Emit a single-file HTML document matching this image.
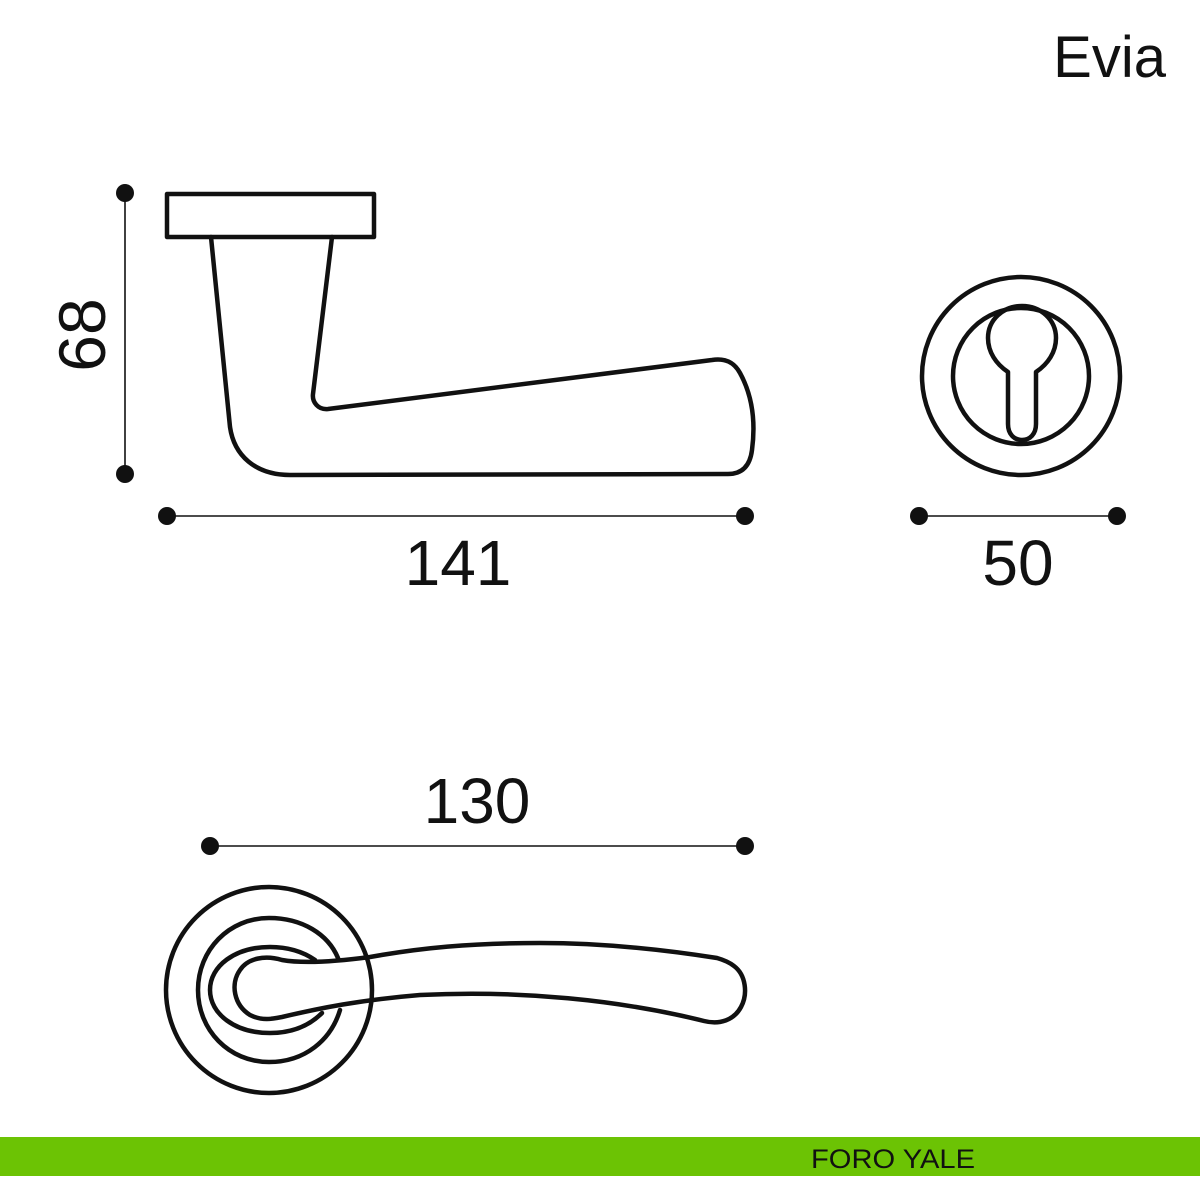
<!DOCTYPE html>
<html><head><meta charset="utf-8"><style>
html,body{margin:0;padding:0;background:#fff;}
svg{display:block;}
text{font-family:"Liberation Sans",sans-serif;fill:#111;}
</style></head><body>
<svg width="1200" height="1200" viewBox="0 0 1200 1200" xmlns="http://www.w3.org/2000/svg">
<rect width="1200" height="1200" fill="#fff"/>
<text x="1166" y="77" font-size="58" text-anchor="end">Evia</text>

<g fill="none" stroke="#111" stroke-width="4.5" stroke-linejoin="round" stroke-linecap="round">
  <!-- side view -->
  <rect x="167" y="194" width="207" height="43"/>
  <path d="M211,237 L230,427 C234,455 255,475 290,475 L728,474 C742,474 750,466 752,450 C756,420 752,395 740,373 C734,362 725,358 712,360 L328,409 C318,410 312,402 313,394 L332,237"/>
  <!-- escutcheon -->
  <circle cx="1021" cy="376" r="99"/>
  <circle cx="1021" cy="376" r="68"/>
  <path d="M1008,372 C996,364 988,352 988,338 C988,320 1003,306 1022,306 C1041,306 1056,320 1056,338 C1056,352 1048,364 1036,372 L1036,424 C1036,434 1030,440 1022,440 C1014,440 1008,434 1008,424 Z"/>
  <!-- bottom view -->
  <circle cx="269" cy="990" r="103"/>
  <path d="M338,958 C328,934 302,918 269,918 C229,918 198,950 198,990 C198,1030 229,1062 269,1062 C305,1062 331,1040 340,1010"/>
  <path d="M315,960 C302,951 287,947 270,947 C235,947 210,966 210,990 C210,1014 235,1033 270,1033 C292,1033 309,1026 322,1013"/>
  <path d="M282,960 C265,955 248,958 240,970 C230,984 234,1005 250,1015 C262,1021 272,1019 282,1017 C320,1008 360,1000 420,995 C520,990 620,1000 704,1021 C720,1025 734,1020 741,1007 C748,994 746,975 734,966 C729,962 724,960 717,958 C660,949 600,943 540,943 C470,943 420,948 370,957 C340,961 305,964 282,960 Z"/>
</g>

<!-- dimensions -->
<g stroke="#111" stroke-width="1.6">
  <line x1="125" y1="193" x2="125" y2="474"/>
  <line x1="167" y1="516" x2="745" y2="516"/>
  <line x1="919" y1="516" x2="1117" y2="516"/>
  <line x1="210" y1="846" x2="745" y2="846"/>
</g>
<g fill="#111">
  <circle cx="125" cy="193" r="9"/><circle cx="125" cy="474" r="9"/>
  <circle cx="167" cy="516" r="9"/><circle cx="745" cy="516" r="9"/>
  <circle cx="919" cy="516" r="9"/><circle cx="1117" cy="516" r="9"/>
  <circle cx="210" cy="846" r="9"/><circle cx="745" cy="846" r="9"/>
</g>
<text x="0" y="0" font-size="66" text-anchor="middle" transform="translate(105,335) rotate(-90)">68</text>
<text x="458" y="585" font-size="64" text-anchor="middle">141</text>
<text x="1018" y="585" font-size="64" text-anchor="middle">50</text>
<text x="477" y="823" font-size="64" text-anchor="middle">130</text>

<rect x="0" y="1137" width="1200" height="39" fill="#6cc304"/>
<text x="811" y="1168" font-size="27" textLength="164" lengthAdjust="spacingAndGlyphs">FORO YALE</text>
</svg>
</body></html>
